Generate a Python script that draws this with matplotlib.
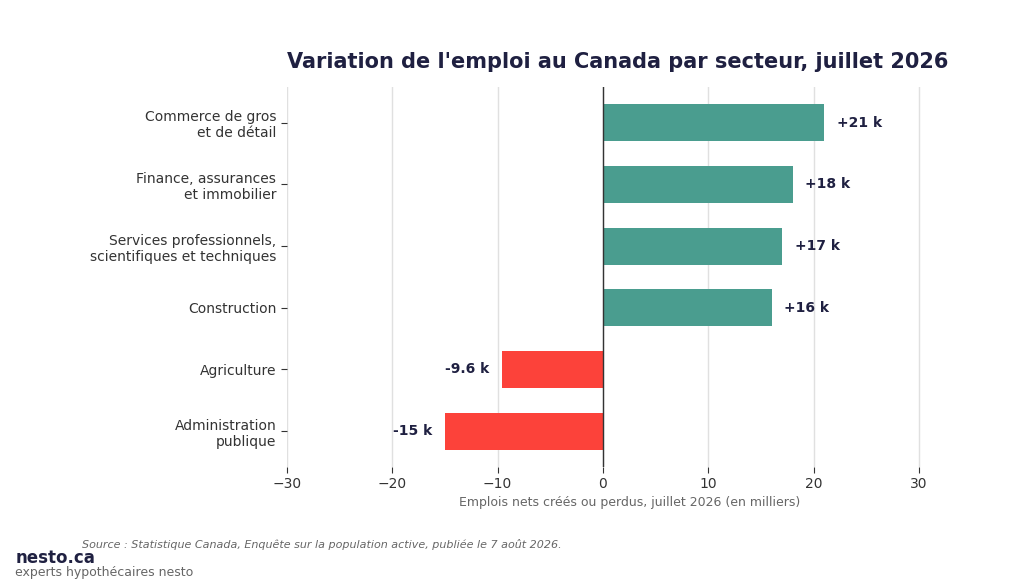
import matplotlib.pyplot as plt

sectors = [
    "Commerce de gros\net de détail",
    "Finance, assurances\net immobilier",
    "Services professionnels,\nscientifiques et techniques",
    "Construction",
    "Agriculture",
    "Administration\npublique",
]
changes = [21, 18, 17, 16, -9.6, -15]
labels = ["+21 k", "+18 k", "+17 k", "+16 k", "-9.6 k", "-15 k"]

dark = "#1f2041"
green = "#4a9d8f"
red = "#fc423a"

fig = plt.figure(figsize=(10.24, 5.83), dpi=100)
ax = fig.add_axes([0.280, 0.199, 0.669, 0.652])

colors = [green if v > 0 else red for v in changes]
y = list(range(len(sectors)))
ax.barh(y, changes, height=0.6, color=colors, zorder=3)
ax.invert_yaxis()

for yi, v, lab in zip(y, changes, labels):
    if v > 0:
        ax.text(v + 1.2, yi, lab, ha="left", va="center", fontsize=10,
                fontweight="bold", color=dark, zorder=4)
    else:
        ax.text(v - 1.2, yi, lab, ha="right", va="center", fontsize=10,
                fontweight="bold", color=dark, zorder=4)

ax.axvline(0, color="#333333", linewidth=1, zorder=4)
ax.set_xlim(-30, 35)
ax.set_xticks([-30, -20, -10, 0, 10, 20, 30])
ax.set_yticks(y)
ax.set_yticklabels(sectors, fontsize=10, color="#333333")
ax.tick_params(axis="x", labelsize=10, colors="#333333", length=4)
ax.tick_params(axis="y", length=4, colors="#333333")
ax.grid(axis="x", color="#e0e0e0", linewidth=1, zorder=0)
for s in ax.spines.values():
    s.set_visible(False)

ax.set_xlabel("Emplois nets créés ou perdus, juillet 2026 (en milliers)",
              fontsize=9, color="#666666", labelpad=3)

fig.text(0.603, 0.894, "Variation de l'emploi au Canada par secteur, juillet 2026",
         ha="center", va="center", fontsize=15, fontweight="bold", color=dark)

fig.text(0.080, 0.066, "Source : Statistique Canada, Enquête sur la population active, publiée le 7 août 2026.",
         fontsize=8, style="italic", color="#666666", va="center")
fig.text(0.015, 0.043, "nesto.ca", fontsize=12, fontweight="bold", color=dark, va="center")
fig.text(0.015, 0.018, "experts hypothécaires nesto", fontsize=9, color="#666666", va="center")

fig.savefig("out.png", dpi=100)
